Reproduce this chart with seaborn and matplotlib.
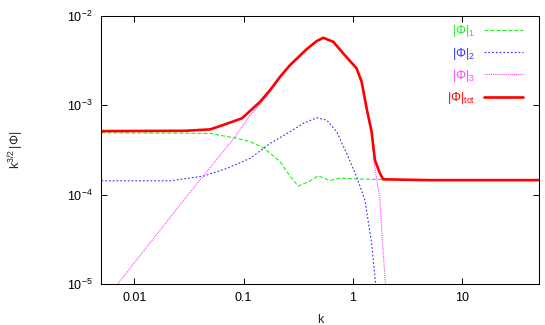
import matplotlib
matplotlib.use("Agg")
import matplotlib.pyplot as plt
from matplotlib.ticker import LogLocator, NullLocator, FixedLocator, FixedFormatter
import seaborn as sns

# values (log-log plot)
k_tot = [0.005, 0.0292, 0.0494, 0.061, 0.0963, 0.1416, 0.1746, 0.2155, 0.2658,
         0.3777, 0.466, 0.5356, 0.661, 0.815, 1.081, 1.201, 1.334, 1.482,
         1.589, 1.765, 1.891, 5.0, 50.0]
phi_tot = [5.12e-4, 5.16e-4, 5.35e-4, 5.83e-4, 7.10e-4, 1.089e-3, 1.47e-3,
           2.07e-3, 2.80e-3, 4.22e-3, 5.19e-3, 5.65e-3, 5.10e-3, 3.78e-3,
           2.57e-3, 1.82e-3, 9.19e-4, 5.03e-4, 2.43e-4, 1.73e-4, 1.48e-4,
           1.45e-4, 1.45e-4]

k_1 = [0.005, 0.0494, 0.0867, 0.1147, 0.1517, 0.2155, 0.2658, 0.315, 0.388,
       0.482, 0.6166, 0.761, 1.158, 5.0, 50.0]
phi_1 = [4.90e-4, 4.83e-4, 4.25e-4, 3.89e-4, 3.35e-4, 2.33e-4, 1.61e-4,
         1.245e-4, 1.38e-4, 1.62e-4, 1.43e-4, 1.53e-4, 1.49e-4, 1.45e-4,
         1.45e-4]

k_2 = [0.005, 0.0213, 0.043, 0.0702, 0.1147, 0.1746, 0.2658, 0.3516, 0.466,
       0.575, 0.71, 0.876, 1.081, 1.287, 1.482, 1.589, 1.656]
phi_2 = [1.425e-4, 1.425e-4, 1.61e-4, 1.96e-4, 2.54e-4, 3.73e-4, 5.04e-4,
         6.25e-4, 7.21e-4, 6.80e-4, 5.04e-4, 2.88e-4, 1.58e-4, 8.68e-5,
         2.85e-5, 1.21e-5, 7.6e-6]

k_3 = [0.006, 0.00704, 0.0292, 0.0836, 0.1147, 0.1416, 0.1746, 0.2155, 0.2658,
       0.3777, 0.466, 0.5356, 0.661, 0.815, 1.081, 1.201, 1.334, 1.482, 1.589,
       1.765, 1.867, 1.96, 2.02]
phi_3 = [7.8e-6, 1.0e-5, 9.07e-5, 4.43e-4, 7.73e-4, 1.03e-3, 1.40e-3, 2.02e-3,
         2.75e-3, 4.18e-3, 5.15e-3, 5.60e-3, 5.05e-3, 3.75e-3, 2.55e-3,
         1.81e-3, 9.0e-4, 4.8e-4, 2.0e-4, 8.7e-5, 2.85e-5, 1.21e-5, 7e-6]

x_ticks = [0.01, 0.1, 1, 10]
x_labels = ["0.01", "0.1", "1", "10"]

sns.set_style("ticks")
plt.rcParams["font.family"] = ["Liberation Sans", "DejaVu Sans"]
plt.rcParams["mathtext.default"] = "regular"

fig = plt.figure(figsize=(5.45, 3.25), dpi=100)
ax = fig.add_axes([0.186, 0.126, 0.8024, 0.826])

sns.lineplot(x=k_1, y=phi_1, ax=ax, color="#22ee22", lw=0.8,
             linestyle=(0, (3.6, 1.8)), label=r"$|\Phi|_1$", sort=False)
sns.lineplot(x=k_2, y=phi_2, ax=ax, color="#3333ff", lw=0.8,
             linestyle=(0, (1.6, 1.8)), label=r"$|\Phi|_2$", sort=False)
sns.lineplot(x=k_3, y=phi_3, ax=ax, color="#ff44ff", lw=0.8,
             linestyle=(0, (1, 0.9)), label=r"$|\Phi|_3$", sort=False)
sns.lineplot(x=k_tot, y=phi_tot, ax=ax, color="#ff0000", lw=1.9,
             label=r"$|\Phi|_{tot}$", sort=False)

ax.set_xscale("log")
ax.set_yscale("log")
ax.set_xlim(0.005, 50)
ax.set_ylim(1e-5, 1e-2)
ax.xaxis.set_major_locator(FixedLocator(x_ticks))
ax.xaxis.set_major_formatter(FixedFormatter(x_labels))
ax.xaxis.set_minor_locator(NullLocator())
ax.yaxis.set_major_locator(LogLocator(base=10, numticks=10))
ax.yaxis.set_minor_locator(NullLocator())
ax.tick_params(direction="in", length=4.3, width=0.7, top=True, right=True,
               labelsize=9, pad=6, colors="black")

for s in ax.spines.values():
    s.set_linewidth(0.75)
    s.set_color("black")

ax.set_xlabel("k", fontsize=9, labelpad=7)
ax.set_ylabel(r"$k^{3/2}\,|\Phi|$", fontsize=9, labelpad=30)

leg = ax.legend(loc="upper right", frameon=False, markerfirst=False,
                fontsize=9, handlelength=3.1, handletextpad=0.72,
                labelspacing=0.5, borderaxespad=0,
                bbox_to_anchor=(0.9755, 0.99))
for txt, line in zip(leg.get_texts(), leg.get_lines()):
    txt.set_color(line.get_color())

fig.savefig("out.png", dpi=100)
